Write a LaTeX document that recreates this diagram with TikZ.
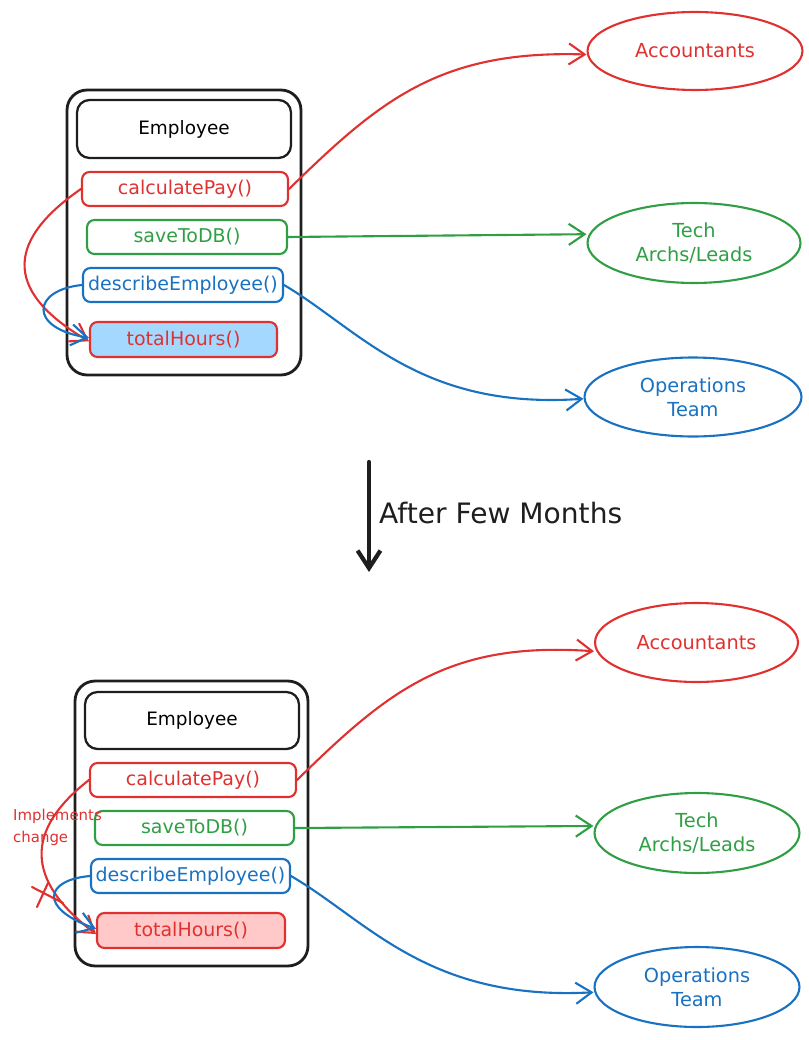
\documentclass[tikz,border=0pt]{standalone}
\usepackage{fontspec}
\setmainfont{DejaVu Sans}
\usepackage{tikz}
\usetikzlibrary{shapes,arrows.meta,positioning,calc}
\definecolor{xred}{HTML}{E03131}
\definecolor{xgreen}{HTML}{2F9E44}
\definecolor{xblue}{HTML}{1971C2}
\definecolor{xink}{HTML}{1E1E1E}
\definecolor{xsky}{HTML}{A5D8FF}
\definecolor{xpink}{HTML}{FFC9C9}

\begin{document}
\begin{tikzpicture}[x=0.02cm,y=-0.02cm,line join=round,line cap=round,>={Straight Barb[length=9pt,width=12pt]}]
		\tikzstyle{frame}=[draw=xink,line width=1.6pt,rounded corners=0.4cm,shape=rectangle]
		\tikzstyle{title}=[draw=xink,line width=1.3pt,rounded corners=0.25cm,shape=rectangle,font=\fontsize{10.5}{12}\selectfont]
		\tikzstyle{method}=[line width=1.2pt,rounded corners=0.15cm,shape=rectangle,inner sep=2pt,minimum height=0.68cm,font=\fontsize{10.8}{13}\selectfont]
		%\tikzstyle{team}=[draw,shape=ellipse,fill=white]
		\tikzstyle{team}=[line width=1.2pt,shape=ellipse,align=center,font=\fontsize{11}{13.6}\selectfont]
		\tikzstyle{link}=[line width=1.2pt,->]

		\useasboundingbox (0,0) rectangle (808,1040);

		% before
		\node[frame,minimum width=4.68cm,minimum height=5.7cm](frame1) at (184,232.5){};
		\node[title,minimum width=4.28cm,minimum height=1.16cm](emp1) at (184,129){Employee};
		\node[method,draw=xred,text=xred,minimum width=4.12cm](calc1) at (185,189){calculatePay()};
		\node[method,draw=xgreen,text=xgreen,minimum width=4cm](save1) at (187,237){saveToDB()};
		\node[method,draw=xblue,text=xblue,minimum width=4cm](desc1) at (183,285){describeEmployee()};
		\node[method,draw=xred,fill=xsky,text=xred,minimum width=3.74cm,minimum height=0.7cm](tot1) at (183.5,339.5){totalHours()};

		\node[team,draw=xred,text=xred,minimum width=4.3cm,minimum height=1.56cm](acc1) at (695,51){Accountants};
		\node[team,draw=xgreen,text=xgreen,minimum width=4.26cm,minimum height=1.6cm](tech1) at (694,243){Tech\\Archs/Leads};
		\node[team,draw=xblue,text=xblue,minimum width=4.34cm,minimum height=1.58cm](ops1) at (693,397){Operations\\Team};

		\draw[link,xred] (calc1.east) .. controls (380,100) and (440,50) .. ([yshift=-2pt]acc1.west);
		\draw[link,xgreen] (save1.east) -- ([yshift=5pt]tech1.west);
		\draw[link,xblue] (desc1.east) .. controls (360,330) and (420,410) .. ([yshift=-1pt]ops1.west);
		\draw[link,xred] (calc1.west) .. controls (0,245) and (10,295) .. ([yshift=-1pt]tot1.west);
		\draw[link,xblue] (desc1.west) .. controls (32,290) and (28,328) .. ([yshift=1pt]tot1.west);

		% arrow in between
		\coordinate (down0) at (369,462);
		\coordinate (down1) at (369,572);
		\draw[->,xink,line width=2.4pt,>={Straight Barb[length=10pt,width=13pt]}] (down0) -- (down1);
		\node[anchor=west,text=xink,font=\fontsize{16}{18}\selectfont](after) at (373,513){After Few Months};

		% after
		\node[frame,minimum width=4.66cm,minimum height=5.7cm](frame2) at (191.5,823.5){};
		\node[title,minimum width=4.28cm,minimum height=1.14cm](emp2) at (192,720.5){Employee};
		\node[method,draw=xred,text=xred,minimum width=4.12cm](calc2) at (193,780){calculatePay()};
		\node[method,draw=xgreen,text=xgreen,minimum width=3.98cm](save2) at (194.5,828){saveToDB()};
		\node[method,draw=xblue,text=xblue,minimum width=3.98cm](desc2) at (190.5,876){describeEmployee()};
		\node[method,draw=xred,fill=xpink,text=xred,minimum width=3.76cm,minimum height=0.7cm](tot2) at (191,930.5){totalHours()};

		\node[team,draw=xred,text=xred,minimum width=4.06cm,minimum height=1.58cm](acc2) at (696.5,642.5){Accountants};
		\node[team,draw=xgreen,text=xgreen,minimum width=4.1cm,minimum height=1.6cm](tech2) at (697,833){Tech\\Archs/Leads};
		\node[team,draw=xblue,text=xblue,minimum width=4.1cm,minimum height=1.6cm](ops2) at (697,987){Operations\\Team};

		\draw[link,xred] (calc2.east) .. controls (388,691) and (448,641) .. ([yshift=-5pt]acc2.west);
		\draw[link,xgreen] (save2.east) -- ([yshift=4pt]tech2.west);
		\draw[link,xblue] (desc2.east) .. controls (368,921) and (428,1001) .. ([yshift=-3pt]ops2.west);
		\draw[link,xred] (calc2.west) .. controls (25,830) and (25,880) .. ([yshift=-2pt]tot2.west);
		\draw[link,xblue] (desc2.west) .. controls (45,880) and (38,908) .. ([yshift=1pt]tot2.west);

		\node[anchor=west,align=left,text=xred,font=\fontsize{8.5}{12.5}\selectfont](impl) at (7,827){Implements\\change};
		\coordinate (cross) at (46,895);
		\draw[xred,line width=1.2pt] ($(cross)+(-9,12)$) -- ($(cross)+(2,-12)$);
		\draw[xred,line width=1.2pt] ($(cross)+(-14,-8)$) -- ($(cross)+(17,8)$);
	\end{tikzpicture}
\end{document}
